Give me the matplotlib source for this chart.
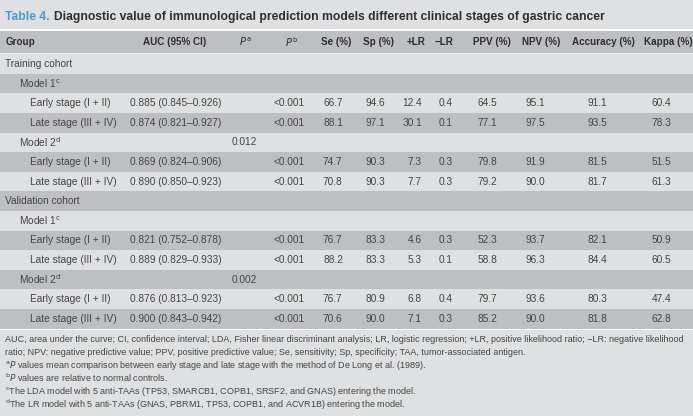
import matplotlib
matplotlib.use("Agg")
import matplotlib.pyplot as plt
from matplotlib.patches import Rectangle

FONT = ['Liberation Sans Narrow', 'Liberation Sans', 'DejaVu Sans']
plt.rcParams['font.family'] = FONT
plt.rcParams['mathtext.fontset'] = 'custom'
plt.rcParams['mathtext.rm'] = 'Liberation Sans Narrow'
plt.rcParams['mathtext.it'] = 'Liberation Sans Narrow:italic'
plt.rcParams['mathtext.bf'] = 'Liberation Sans Narrow:bold'

# ---------------- data ----------------
title_num = "Table 4."
title_text = "Diagnostic value of immunological prediction models different clinical stages of gastric cancer"

headers = ["Group", "AUC (95% CI)", r"$\mathit{P}^{\,\mathrm{a}}$", r"$\mathit{P}^{\,\mathrm{b}}$",
           "Se (%)", "Sp (%)", "+LR", "\u2212LR", "PPV (%)", "NPV (%)", "Accuracy (%)", "Kappa (%)"]

groups = ["Training cohort", "Model 1", "Early stage (I + II)", "Late stage (III + IV)",
          "Model 2", "Early stage (I + II)", "Late stage (III + IV)",
          "Validation cohort", "Model 1", "Early stage (I + II)", "Late stage (III + IV)",
          "Model 2", "Early stage (I + II)", "Late stage (III + IV)"]
levels = [0, 1, 2, 2, 1, 2, 2, 0, 1, 2, 2, 1, 2, 2]
sups = ["", "c", "", "", "d", "", "", "", "c", "", "", "d", "", ""]

auc = ["", "", "0.885 (0.845\u20130.926)", "0.874 (0.821\u20130.927)", "",
       "0.869 (0.824\u20130.906)", "0.890 (0.850\u20130.923)", "", "",
       "0.821 (0.752\u20130.878)", "0.889 (0.829\u20130.933)", "",
       "0.876 (0.813\u20130.923)", "0.900 (0.843\u20130.942)"]
p_a = ["", "", "", "", "0.012", "", "", "", "", "", "", "0.002", "", ""]
p_b = ["", "", "<0.001", "<0.001", "", "<0.001", "<0.001", "", "",
       "<0.001", "<0.001", "", "<0.001", "<0.001"]
se = ["", "", "66.7", "88.1", "", "74.7", "70.8", "", "", "76.7", "88.2", "", "76.7", "70.6"]
sp = ["", "", "94.6", "97.1", "", "90.3", "90.3", "", "", "83.3", "83.3", "", "80.9", "90.0"]
plr = ["", "", "12.4", "30.1", "", "7.3", "7.7", "", "", "4.6", "5.3", "", "6.8", "7.1"]
nlr = ["", "", "0.4", "0.1", "", "0.3", "0.3", "", "", "0.3", "0.1", "", "0.4", "0.3"]
ppv = ["", "", "64.5", "77.1", "", "79.8", "79.2", "", "", "52.3", "58.8", "", "79.7", "85.2"]
npv = ["", "", "95.1", "97.5", "", "91.9", "90.0", "", "", "93.7", "96.3", "", "93.6", "90.0"]
acc = ["", "", "91.1", "93.5", "", "81.5", "81.7", "", "", "82.1", "84.4", "", "80.3", "81.8"]
kappa = ["", "", "60.4", "78.3", "", "51.5", "61.3", "", "", "50.9", "60.5", "", "47.4", "62.8"]

footnotes = [
    "AUC, area under the curve; CI, confidence interval; LDA, Fisher linear discriminant analysis; LR, logistic regression; +LR, positive likelihood ratio; \u2212LR: negative likelihood",
    "ratio; NPV: negative predictive value; PPV, positive predictive value; Se, sensitivity; Sp, specificity; TAA, tumor-associated antigen.",
    r"$^{\mathrm{a}}\mathit{P}$ values mean comparison between early stage and late stage with the method of De Long et al. (1989).",
    r"$^{\mathrm{b}}\mathit{P}$ values are relative to normal controls.",
    r"$^{\mathrm{c}}$The LDA model with 5 anti-TAAs (TP53, SMARCB1, COPB1, SRSF2, and GNAS) entering the model.",
    r"$^{\mathrm{d}}$The LR model with 5 anti-TAAs (GNAS, PBRM1, TP53, COPB1, and ACVR1B) entering the model.",
]

# ---------------- layout ----------------
W, H = 693, 416
BG = "#dfe0e2"
DARK = "#bebfc2"
TXT = "#454545"
HDR = "#2e2e2e"
BLUE = "#4b9ad6"

fig = plt.figure(figsize=(W / 100, H / 100), dpi=100)
fig.patch.set_facecolor(BG)
ax = fig.add_axes([0, 0, 1, 1])
ax.set_xlim(0, W)
ax.set_ylim(H, 0)
ax.axis("off")

# title
t = ax.text(5, 17, title_num + " ", color=BLUE, fontsize=8.7, fontweight="bold", va="center", ha="left")
fig.canvas.draw()
bb = t.get_window_extent()
ax.text(5 + bb.width + 1, 17, title_text, color=HDR, fontsize=8.7, fontweight="bold", va="center", ha="left")

# header band
hdr_top, hdr_bot = 30.5, 53
ax.add_patch(Rectangle((0, 28.5), W, 2, color="white", lw=0))
ax.add_patch(Rectangle((0, hdr_top), W, hdr_bot - hdr_top, color=DARK, lw=0))
ax.add_patch(Rectangle((0, hdr_bot), W, 1.2, color="#eeeff0", lw=0))

hdr_x = [6, 143, 239, 285, 321, 363, 407, 435, 473, 522, 572, 644]
hy = (hdr_top + hdr_bot) / 2
for x, h in zip(hdr_x, headers):
    ax.text(x, hy, h, color=HDR, fontsize=7.1, fontweight="bold", va="center", ha="left")

# rows
row_top = 54.2
row_h = 19.6
indent = {0: 5, 1: 19, 2: 30}
for i, g in enumerate(groups):
    y0 = row_top + i * row_h
    if i % 2 == 1:
        ax.add_patch(Rectangle((0, y0), W, row_h, color=DARK, lw=0))
    yc = y0 + row_h / 2
    label = g + (r"$^{\mathrm{" + sups[i] + "}}$" if sups[i] else "")
    ax.text(indent[levels[i]], yc, label, color=TXT, fontsize=7.3, va="center", ha="left")
    cols = [(130, auc, "left"), (232, p_a, "left"), (274, p_b, "left"),
            (323, se, "left"), (366, sp, "left"), (422, plr, "right"),
            (439, nlr, "left"), (478, ppv, "left"), (526, npv, "left"),
            (588, acc, "left"), (652, kappa, "left")]
    for x, arr, ha in cols:
        if arr[i]:
            ax.text(x, yc, arr[i], color=TXT, fontsize=7.3, va="center", ha=ha)

end_y = row_top + len(groups) * row_h
ax.add_patch(Rectangle((0, end_y), W, 1.6, color="white", lw=0))

# footnotes
fy = 339
for k, f in enumerate(footnotes):
    ax.text(5, fy + k * 13.1, f, color=TXT, fontsize=6.5, va="center", ha="left")

fig.savefig("out.png", dpi=100, facecolor=BG)
